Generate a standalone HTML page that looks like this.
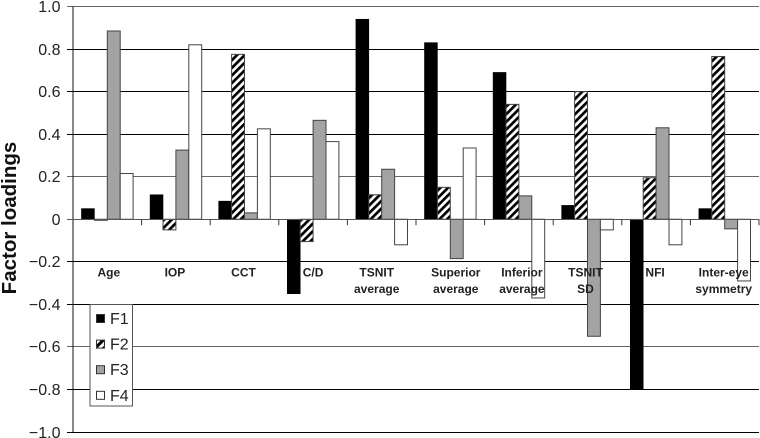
<!DOCTYPE html>
<html>
<head>
<meta charset="utf-8">
<title>Factor loadings chart</title>
<style>
html,body{margin:0;padding:0;background:#fff;}
svg{display:block;font-family:"Liberation Sans",sans-serif;}
</style>
</head>
<body>
<svg id="chart" xmlns="http://www.w3.org/2000/svg" width="760" height="438" viewBox="0 0 760 438">
<defs>
<pattern id="hatch" patternUnits="userSpaceOnUse" width="5.4" height="8" patternTransform="rotate(45)">
<rect width="5.4" height="8" fill="#fff"/>
<rect width="2.7" height="8" fill="#000"/>
</pattern>
<pattern id="hatch-small" patternUnits="userSpaceOnUse" width="6" height="6" patternTransform="rotate(45)">
<rect width="6" height="6" fill="#fff"/>
<rect width="3" height="6" fill="#000"/>
</pattern>
</defs>
<g id="grid"></g>
<g id="bars"></g>
<g id="axes"></g>
<g id="ylabels"></g>
<g id="xlabels"></g>
<text x="0" y="0" transform="translate(16,218) rotate(-90)" text-anchor="middle" font-size="20.5" font-weight="bold" fill="#111">Factor loadings</text>
<g id="legend"></g>
</svg>
<script>
const categories = [["Age"],["IOP"],["CCT"],["C/D"],["TSNIT","average"],["Superior","average"],["Inferior","average"],["TSNIT","SD"],["NFI"],["Inter-eye","symmetry"]];
const seriesNames = ["F1","F2","F3","F4"];
const f1 = [0.05,0.115,0.085,-0.35,0.94,0.83,0.69,0.065,-0.8,0.05];
const f2 = [-0.005,-0.05,0.775,-0.105,0.115,0.15,0.54,0.6,0.195,0.765];
const f3 = [0.885,0.325,0.03,0.465,0.235,-0.185,0.11,-0.55,0.43,-0.045];
const f4 = [0.215,0.82,0.425,0.365,-0.12,0.335,-0.37,-0.05,-0.12,-0.29];
const yTicks = [1,0.8,0.6,0.4,0.2,0,-0.2,-0.4,-0.6,-0.8,-1];
const tickLabels = ["1.0","0.8","0.6","0.4","0.2","0","\u22120.2","\u22120.4","\u22120.6","\u22120.8","\u22121.0"];

const NS = "http://www.w3.org/2000/svg";
const plotLeft = 73, plotRight = 759, plotTop = 6.5, plotBottom = 432;
const allSeries = [f1,f2,f3,f4];
const fills = ["#000","url(#hatch)","#a3a3a3","#fff"];
const catW = (plotRight - plotLeft) / categories.length;
const barW = 12.9;
function yScale(v){ return plotTop + (1 - v) / 2 * (plotBottom - plotTop); }
function snap(y){ return Math.floor(y) + 0.5; }
function xBand(i){ return plotLeft + i * catW; }
function labelNudge(c){ return [1.5,-1,-1,0,-5,5.5,3,-2,-1,-1][c]; }
function mk(tag, attrs, parent){
  const el = document.createElementNS(NS, tag);
  for (const k in attrs) el.setAttribute(k, attrs[k]);
  parent.appendChild(el);
  return el;
}
const grid = document.getElementById('grid');
const barsG = document.getElementById('bars');
const axes = document.getElementById('axes');
const ylabels = document.getElementById('ylabels');
const xlabels = document.getElementById('xlabels');
const legend = document.getElementById('legend');

yTicks.forEach(function(t, i){
  const y = snap(yScale(t));
  if (t !== 0) {
    const line = mk('line', {x1:67, x2:plotRight, y1:y, y2:y, stroke:(t===0.2||t===-0.6||t===1)?'#666':'#000', 'stroke-width':1}, grid);
    
    
  }
  const label = mk('text', {x:60.5, y:y + 5.5, 'text-anchor':'end', 'font-size':16, fill:'#222'}, ylabels);
  label.textContent = tickLabels[i];
  
  
});

categories.forEach(function(cat, c){
  const start = xBand(c) + (catW - barW * 4) / 2;
  allSeries.forEach(function(vals, s){
    const y0 = yScale(0), y1 = yScale(vals[c]);
    const bar = mk('rect', {x:start + s * barW, y:Math.min(y0,y1), width:barW, height:Math.abs(y1-y0), fill:fills[s], stroke:s===0?'#000':'#444', 'stroke-width':s===0?0.6:1}, barsG);
    
    
  });
  cat.forEach(function(line, l){
    const t = mk('text', {x:xBand(c) + catW / 2 + labelNudge(c), y:276.5 + l * 16.5, 'text-anchor':'middle', 'font-size':12, 'font-weight':'bold', fill:'#222'}, xlabels);
    t.textContent = line;
    
    
  });
});

const yAxis = mk('line', {x1:plotLeft, x2:plotLeft, y1:plotTop, y2:plotBottom, stroke:'#111', 'stroke-width':1}, axes);


const zero = mk('line', {x1:67, x2:plotRight, y1:snap(yScale(0)), y2:snap(yScale(0)), stroke:'#555', 'stroke-width':1}, axes);


for (let i = 1; i <= categories.length; i++) {
  const tick = mk('line', {x1:xBand(i), x2:xBand(i), y1:yScale(0), y2:yScale(0) + 6, stroke:'#333', 'stroke-width':1}, axes);
  
  
}

const box = mk('rect', {x:90, y:304.5, width:42.5, height:101.5, fill:'#fff', stroke:'#555', 'stroke-width':1}, legend);


const legendFills = ["#000","url(#hatch-small)","#a3a3a3","#fff"];
seriesNames.forEach(function(name, i){
  const cy = 318.5 + i * 25.6;
  const sw = mk('rect', {x:96.5, y:cy - 4, width:8, height:8, fill:legendFills[i], stroke:'#333', 'stroke-width':1}, legend);
  
  
  const t = mk('text', {x:110, y:cy + 5.5, 'font-size':16, fill:'#222'}, legend);
  t.textContent = name;
  
  
});
</script>
</body>
</html>
